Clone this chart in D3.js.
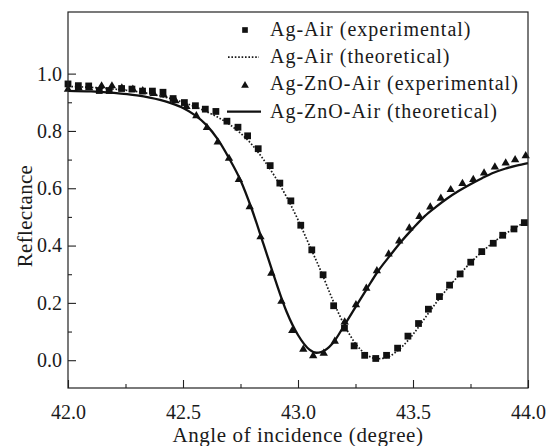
<!DOCTYPE html>
<html>
<head>
<meta charset="utf-8">
<script src="https://cdn.jsdelivr.net/npm/d3@7/dist/d3.min.js"></script>
<style>
  body { margin: 0; background: #fff; }
</style>
</head>
<body>
<svg id="chart"></svg>
<script>
// Ag-Air experimental points (squares)
const agAirExpAngle = [42.000, 42.045, 42.090, 42.136, 42.179, 42.233, 42.278, 42.324, 42.367, 42.413,
  42.457, 42.506, 42.554, 42.597, 42.643, 42.691, 42.739, 42.781, 42.827, 42.879,
  42.921, 42.969, 43.012, 43.060, 43.109, 43.155, 43.202, 43.244, 43.290, 43.338,
  43.385, 43.433, 43.478, 43.524, 43.567, 43.615, 43.659, 43.705, 43.751, 43.799,
  43.849, 43.890, 43.939, 43.984];
const agAirExpR = [0.964, 0.958, 0.957, 0.941, 0.941, 0.948, 0.946, 0.939, 0.939, 0.935,
  0.913, 0.899, 0.888, 0.876, 0.868, 0.834, 0.813, 0.783, 0.738, 0.679,
  0.618, 0.556, 0.471, 0.385, 0.298, 0.190, 0.112, 0.050, 0.017, 0.006,
  0.017, 0.042, 0.084, 0.128, 0.178, 0.222, 0.262, 0.301, 0.342, 0.379,
  0.408, 0.436, 0.458, 0.480];

// Ag-Air theoretical (dotted line)
const agAirTheoAngle = [42.0, 42.1, 42.2, 42.3, 42.4, 42.5, 42.6, 42.7, 42.75, 42.8,
  42.85, 42.9, 42.95, 43.0, 43.05, 43.1, 43.15, 43.2, 43.25, 43.3,
  43.35, 43.4, 43.45, 43.5, 43.55, 43.6, 43.65, 43.7, 43.75, 43.8,
  43.85, 43.9, 43.95, 44.0];
const agAirTheoR = [0.955, 0.952, 0.946, 0.937, 0.922, 0.900, 0.868, 0.824, 0.792, 0.752,
  0.700, 0.640, 0.570, 0.490, 0.400, 0.310, 0.212, 0.125, 0.058, 0.018,
  0.005, 0.015, 0.045, 0.090, 0.145, 0.200, 0.250, 0.297, 0.340, 0.378,
  0.412, 0.440, 0.465, 0.488];

// Ag-ZnO-Air experimental points (triangles)
const znoExpAngle = [42.000, 42.046, 42.092, 42.146, 42.191, 42.234, 42.282, 42.325, 42.372, 42.416,
  42.467, 42.515, 42.558, 42.604, 42.651, 42.700, 42.743, 42.790, 42.837, 42.884,
  42.928, 42.975, 43.023, 43.066, 43.112, 43.160, 43.203, 43.252, 43.297, 43.343,
  43.394, 43.440, 43.484, 43.528, 43.575, 43.621, 43.664, 43.715, 43.762, 43.809,
  43.856, 43.903, 43.944, 43.990];
const znoExpR = [0.945, 0.950, 0.950, 0.957, 0.957, 0.950, 0.945, 0.940, 0.930, 0.925,
  0.905, 0.885, 0.853, 0.812, 0.761, 0.704, 0.630, 0.535, 0.430, 0.303,
  0.205, 0.103, 0.038, 0.015, 0.024, 0.066, 0.133, 0.193, 0.251, 0.312,
  0.370, 0.416, 0.461, 0.501, 0.534, 0.565, 0.595, 0.616, 0.630, 0.653,
  0.674, 0.688, 0.699, 0.713];

// Ag-ZnO-Air theoretical (solid line)
const znoTheoAngle = [42.0, 42.1, 42.2, 42.3, 42.4, 42.45, 42.5, 42.55, 42.6, 42.65,
  42.7, 42.75, 42.8, 42.85, 42.9, 42.95, 43.0, 43.05, 43.08, 43.1,
  43.15, 43.2, 43.25, 43.3, 43.35, 43.4, 43.45, 43.5, 43.55, 43.6,
  43.65, 43.7, 43.75, 43.8, 43.85, 43.9, 43.95, 44.0];
const znoTheoR = [0.940, 0.938, 0.933, 0.924, 0.908, 0.896, 0.880, 0.856, 0.822, 0.772,
  0.705, 0.628, 0.525, 0.405, 0.283, 0.170, 0.088, 0.037, 0.026, 0.028,
  0.058, 0.120, 0.185, 0.250, 0.313, 0.365, 0.415, 0.460, 0.502, 0.535,
  0.565, 0.591, 0.614, 0.635, 0.654, 0.668, 0.679, 0.688];

const xTicks = [42.0, 42.5, 43.0, 43.5, 44.0];
const yTicks = [0.0, 0.2, 0.4, 0.6, 0.8, 1.0];
const legendLabels = ['Ag-Air (experimental)', 'Ag-Air (theoretical)',
  'Ag-ZnO-Air (experimental)', 'Ag-ZnO-Air (theoretical)'];

const FONT = '"Liberation Serif", "DejaVu Serif", serif';
const zip = (xs, ys) => xs.map((x, i) => ({ x: x, y: ys[i] }));

class ReflectanceChart {

  constructor(_config) {
    this.config = {
      parentElement: _config.parentElement,
      containerWidth: _config.containerWidth || 548,
      containerHeight: _config.containerHeight || 446,
      margin: { top: 12, bottom: 58, right: 20, left: 68 }
    }
    this.initVis();
  }

  initVis() {
    let vis = this;

    vis.width = vis.config.containerWidth - vis.config.margin.left - vis.config.margin.right;
    vis.height = vis.config.containerHeight - vis.config.margin.top - vis.config.margin.bottom;

    vis.svg = d3.select(vis.config.parentElement)
      .attr('width', vis.config.containerWidth)
      .attr('height', vis.config.containerHeight);

    vis.chart = vis.svg.append('g')
      .attr('transform', `translate(${vis.config.margin.left},${vis.config.margin.top})`);

    vis.xScale = d3.scaleLinear()
      .domain([42, 44])
      .range([0, vis.width]);
    vis.yScale = d3.scaleLinear()
      .domain([-0.097, 1.215])
      .range([vis.height, 0]);

    // axis titles
    vis.svg.append('text')
      .attr('x', vis.config.margin.left + vis.width / 2)
      .attr('y', 442)
      .attr('text-anchor', 'middle')
      .style('font-family', FONT)
      .style('font-size', '21px')
      .style('letter-spacing', '0.6px')
      .style('fill', '#1a1a1a')
      .text('Angle of incidence (degree)');
    vis.svg.append('text')
      .attr('transform', 'rotate(-90)')
      .attr('x', -216)
      .attr('y', 32)
      .attr('text-anchor', 'middle')
      .style('font-family', FONT)
      .style('font-size', '21px')
      .style('letter-spacing', '0.3px')
      .style('fill', '#1a1a1a')
      .text('Reflectance');

    vis.updateVis();
  }

  updateVis() {
    let vis = this;

    // minor ticks first, then major
    vis.chart.append('g')
      .attr('transform', `translate(0,${vis.height})`)
      .call(d3.axisBottom(vis.xScale).tickValues([42.25, 42.75, 43.25, 43.75]).tickSize(-4).tickFormat(''))
      .call(g => g.select('.domain').remove());
    vis.chart.append('g')
      .call(d3.axisLeft(vis.yScale).tickValues([0.1, 0.3, 0.5, 0.7, 0.9]).tickSize(-4).tickFormat(''))
      .call(g => g.select('.domain').remove());

    vis.xAxisGroup = vis.chart.append('g')
      .attr('class', 'axis x-axis')
      .attr('transform', `translate(0,${vis.height})`)
      .call(d3.axisBottom(vis.xScale).tickValues(xTicks).tickSize(-8).tickFormat(d3.format('.1f')));
    vis.xAxisGroup.select('.domain').remove();
    vis.xAxisGroup.selectAll('text')
      .attr('y', 31).attr('dy', null);

    vis.yAxisGroup = vis.chart.append('g')
      .attr('class', 'axis y-axis')
      .call(d3.axisLeft(vis.yScale).tickValues(yTicks).tickSize(-8).tickPadding(6).tickFormat(d3.format('.1f')));
    vis.yAxisGroup.select('.domain').remove();

    vis.chart.selectAll('.axis text')
      .style('font-family', FONT)
      .style('font-size', '20px')
      .style('fill', '#1a1a1a');
    vis.chart.selectAll('.tick line').attr('stroke', '#222').attr('stroke-width', 1.1);

    const line = d3.line()
      .x(d => vis.xScale(d.x))
      .y(d => vis.yScale(d.y))
      .curve(d3.curveMonotoneX);

    vis.chart.append('path')
      .datum(zip(agAirTheoAngle, agAirTheoR))
      .attr('fill', 'none')
      .attr('stroke', '#1a1a1a')
      .attr('stroke-width', 1.7)
      .attr('stroke-dasharray', '1.6,1.8')
      .attr('d', line);

    vis.chart.append('path')
      .datum(zip(znoTheoAngle, znoTheoR))
      .attr('fill', 'none')
      .attr('stroke', '#111')
      .attr('stroke-width', 2.3)
      .attr('d', line);

    const square = d3.symbol().type(d3.symbolSquare).size(46);
    const triangle = d3.symbol().type(d3.symbolTriangle).size(30);

    vis.chart.selectAll('.sq')
      .data(zip(agAirExpAngle, agAirExpR))
      .join('path')
      .attr('class', 'sq')
      .attr('d', square)
      .attr('fill', '#111')
      .attr('transform', d => `translate(${vis.xScale(d.x)},${vis.yScale(d.y)})`);

    vis.chart.selectAll('.tri')
      .data(zip(znoExpAngle, znoExpR))
      .join('path')
      .attr('class', 'tri')
      .attr('d', triangle)
      .attr('fill', '#111')
      .attr('transform', d => `translate(${vis.xScale(d.x)},${vis.yScale(d.y)})`);

    // plot frame
    vis.chart.append('rect')
      .attr('width', vis.width)
      .attr('height', vis.height)
      .attr('fill', 'none')
      .attr('stroke', '#222')
      .attr('stroke-width', 1.2);

    vis.renderLegend();
  }

  renderLegend() {
    let vis = this;
    const lg = vis.svg.append('g').attr('transform', 'translate(228,30)');
    const rowH = 27.2;

    lg.append('path').attr('d', d3.symbol().type(d3.symbolSquare).size(32))
      .attr('transform', `translate(17,0)`).attr('fill', '#111');
    lg.append('line').attr('x1', 0).attr('x2', 31).attr('y1', rowH).attr('y2', rowH)
      .attr('stroke', '#1a1a1a').attr('stroke-width', 1.7).attr('stroke-dasharray', '1.6,1.8');
    lg.append('path').attr('d', d3.symbol().type(d3.symbolTriangle).size(26))
      .attr('transform', `translate(17,${rowH * 2 + 1})`).attr('fill', '#111');
    lg.append('line').attr('x1', -1).attr('x2', 33).attr('y1', rowH * 3).attr('y2', rowH * 3)
      .attr('stroke', '#111').attr('stroke-width', 2.3);

    lg.selectAll('.lg-text')
      .data(legendLabels)
      .join('text')
      .attr('class', 'lg-text')
      .attr('x', 42)
      .attr('y', (d, i) => i * rowH + 6)
      .style('font-family', FONT)
      .style('font-size', '20px')
      .style('letter-spacing', '1px')
      .style('fill', '#1a1a1a')
      .text(d => d);
  }
}

new ReflectanceChart({ parentElement: '#chart' });
</script>
</body>
</html>
